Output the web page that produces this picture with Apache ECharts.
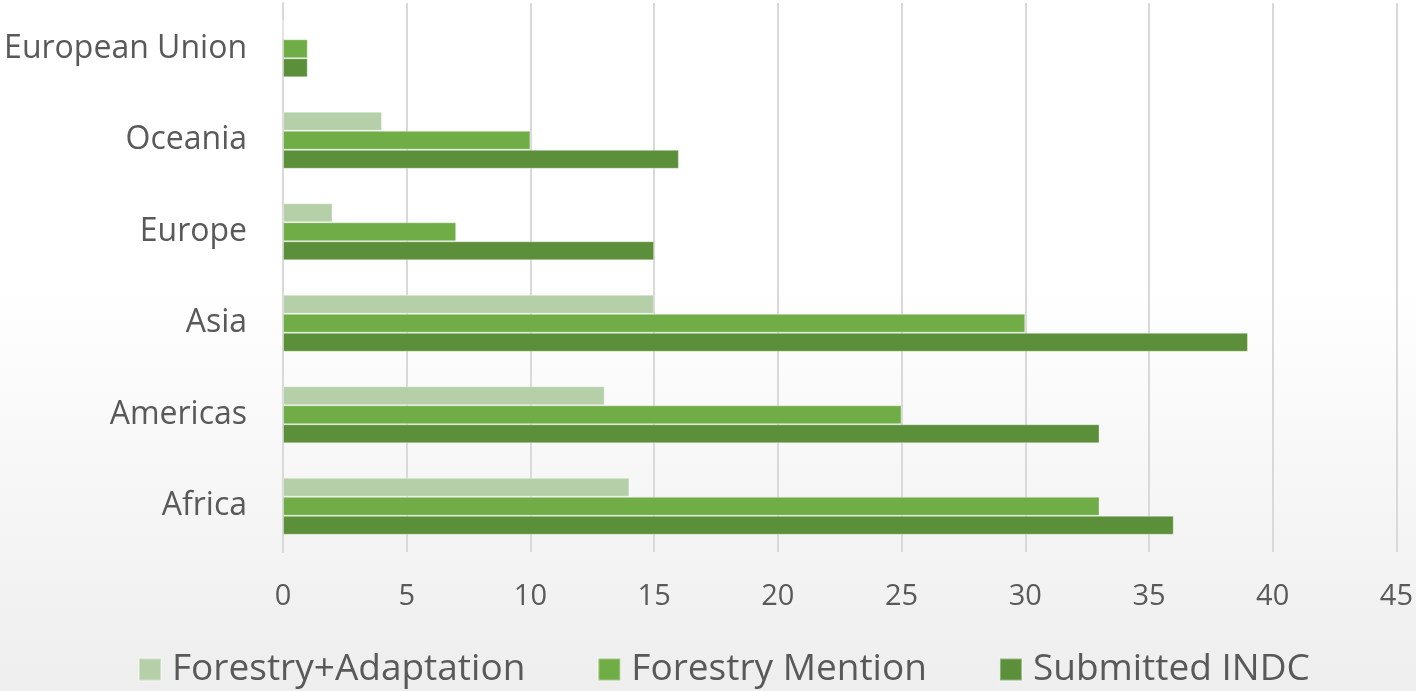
<!DOCTYPE html>
<html>
<head>
<meta charset="utf-8">
<script src="https://cdn.jsdelivr.net/npm/echarts@6/dist/echarts.min.js"></script>
<style>
  html, body { margin: 0; padding: 0; }
  #chart { width: 1416px; height: 691px; }
</style>
</head>
<body>
<div id="chart"></div>
<script>
// categories from bottom to top
const regions = ["Africa", "Americas", "Asia", "Europe", "Oceania", "European Union"];
const forestryAdaptation = [14, 13, 15, 2, 4, 0];
const forestryMention = [33, 25, 30, 7, 10, 1];
const submittedIndc = [36, 33, 39, 15, 16, 1];
const legendNames = ["Forestry+Adaptation", "Forestry Mention", "Submitted INDC"];

const textColor = "#595959";
const fontFamily = "'Open Sans', 'Liberation Sans', sans-serif";

function barSeries(name, values, color) {
  return {
    name: name,
    type: "bar",
    data: values,
    barWidth: 19,
    barGap: "0%",
    itemStyle: { color: color, borderColor: "rgba(255,255,255,0.35)", borderWidth: 1 },
  };
}

const chart = echarts.init(document.getElementById("chart"));
chart.setOption({
  backgroundColor: {
    type: "linear", x: 0, y: 0, x2: 0, y2: 1,
    colorStops: [
      { offset: 0, color: "#ffffff" },
      { offset: 0.4, color: "#ffffff" },
      { offset: 1, color: "#eeeeee" },
    ],
  },
  animation: false,
  textStyle: { fontFamily: fontFamily },
  legend: {
    data: legendNames,
    bottom: -2,
    left: 133,
    itemWidth: 22,
    itemHeight: 22,
    itemGap: 72,
    icon: "rect",
    textStyle: { color: textColor, fontSize: 37, fontFamily: fontFamily, padding: [0, 0, 0, 6] },
  },
  grid: { left: 283, right: 19, top: 3, bottom: 139 },
  xAxis: {
    type: "value",
    min: 0,
    max: 45,
    interval: 5,
    axisLine: { show: false },
    axisTick: { show: false },
    splitLine: { lineStyle: { color: "#d9d9d9", width: 2 } },
    axisLabel: { color: textColor, fontSize: 29, margin: 30, fontFamily: fontFamily },
  },
  yAxis: {
    type: "category",
    data: regions,
    axisLine: { show: true, lineStyle: { color: "#d9d9d9", width: 2 } },
    axisTick: { show: false },
    axisLabel: { color: textColor, fontSize: 32, margin: 36, fontFamily: fontFamily },
  },
  series: [
    barSeries("Forestry+Adaptation", forestryAdaptation, "#b5cfa8"),
    barSeries("Forestry Mention", forestryMention, "#70ad47"),
    barSeries("Submitted INDC", submittedIndc, "#5b8f3a"),
  ],
});
</script>
</body>
</html>
